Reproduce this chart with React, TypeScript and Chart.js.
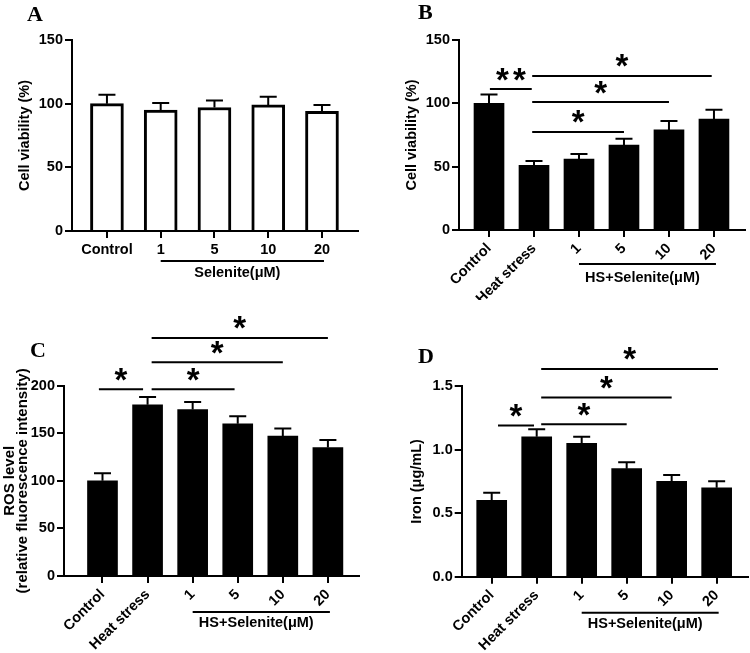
import React, { useEffect, useRef } from 'react';
import { Chart, registerables } from 'chart.js';

Chart.register(...registerables);

const FONT = '"Liberation Sans", Arial, Helvetica, sans-serif';
const SERIF = '"Liberation Serif", "Times New Roman", Times, serif';

// ---------- Panel A ----------
const labelsA = ['Control', '1', '5', '10', '20'];
const valuesA = [100, 95, 97, 99, 94];
const errorsA = [7, 5.5, 5.5, 6.5, 5];
const yTicksA = [0, 50, 100, 150];
const bracketsA: [number, number, number, string][] = [];

// ---------- Panels B, C, D share groups ----------
const labelsTreat = ['Control', 'Heat stress', '1', '5', '10', '20'];

const valuesB = [100, 51, 56, 67, 79, 87.5];
const errorsB = [7, 3.5, 4, 5, 7, 7.5];
const yTicksB = [0, 50, 100, 150];
const bracketsB: [number, number, number, string][] = [
  [0.02, 0.95, 111.3, '**'],
  [0.96, 3, 77.4, '*'],
  [0.96, 4, 101, '*'],
  [0.96, 4.95, 121.6, '*'],
];

const valuesC = [100, 180, 175, 160, 147, 135];
const errorsC = [8, 8, 8, 8, 8, 8];
const yTicksC = [0, 50, 100, 150, 200];
const bracketsC: [number, number, number, string][] = [
  [-0.08, 0.9, 196.3, '*'],
  [1.09, 2.93, 196.3, '*'],
  [1.09, 4, 224.6, '*'],
  [1.09, 5, 250.2, '*'],
];

const valuesD = [0.6, 1.1, 1.05, 0.85, 0.75, 0.7];
const errorsD = [0.06, 0.06, 0.05, 0.05, 0.05, 0.05];
const yTicksD = [0, 0.5, 1.0, 1.5];
const bracketsD: [number, number, number, string][] = [
  [0.14, 0.94, 1.19, '*'],
  [1.1, 3, 1.2, '*'],
  [1.1, 4, 1.41, '*'],
  [1.1, 5.03, 1.634, '*'],
];

interface PanelCfg {
  letter: string;
  letterX: number;
  letterY: number;
  left: number;
  top: number;
  w: number;
  h: number;
  area: { l: number; t: number; r: number; b: number };
  xMin: number;
  xMax: number;
  labels: string[];
  values: number[];
  errors: number[];
  yTicks: number[];
  yDec: number;
  yTitle: string | string[];
  titleSize: number;
  titleLH: number;
  titlePad: number;
  fill: string;
  barW: number;
  border: number;
  rotation: number;
  brackets: [number, number, number, string][];
  groupFrom: number;
  groupTo: number;
  groupText: string;
  groupLineDy: number;
  groupTextDy: number;
}

const panels: PanelCfg[] = [
  {
    letter: 'A', letterX: 27, letterY: 21, left: 0, top: 0, w: 375, h: 300,
    area: { l: 72, t: 40, r: 358, b: 231 }, xMin: -0.65, xMax: 4.67,
    labels: labelsA, values: valuesA, errors: errorsA, yTicks: yTicksA, yDec: 0,
    yTitle: 'Cell viability (%)', titleSize: 14.5, titleLH: 1.2, titlePad: 16.3,
    fill: '#ffffff', barW: 33, border: 3, rotation: 0, brackets: bracketsA,
    groupFrom: 1, groupTo: 4, groupText: 'Selenite(μM)', groupLineDy: 30, groupTextDy: 42,
  },
  {
    letter: 'B', letterX: 43, letterY: 19, left: 375, top: 0, w: 375, h: 300,
    area: { l: 84, t: 40, r: 370, b: 230 }, xMin: -0.667, xMax: 5.69,
    labels: labelsTreat, values: valuesB, errors: errorsB, yTicks: yTicksB, yDec: 0,
    yTitle: 'Cell viability (%)', titleSize: 14.5, titleLH: 1.2, titlePad: 28.3,
    fill: '#000000', barW: 30, border: 0, rotation: 45, brackets: bracketsB,
    groupFrom: 2, groupTo: 5, groupText: 'HS+Selenite(μM)', groupLineDy: 34, groupTextDy: 48,
  },
  {
    letter: 'C', letterX: 30, letterY: 57, left: 0, top: 300, w: 375, h: 353,
    area: { l: 64, t: 85.7, r: 359, b: 276 }, xMin: -0.854, xMax: 5.69,
    labels: labelsTreat, values: valuesC, errors: errorsC, yTicks: yTicksC, yDec: 0,
    yTitle: ['ROS level', '(relative fluorescence intensity)'], titleSize: 15, titleLH: 0.82, titlePad: 4,
    fill: '#000000', barW: 30, border: 0, rotation: 45, brackets: bracketsC,
    groupFrom: 2, groupTo: 5, groupText: 'HS+Selenite(μM)', groupLineDy: 36, groupTextDy: 47,
  },
  {
    letter: 'D', letterX: 43, letterY: 63, left: 375, top: 300, w: 375, h: 353,
    area: { l: 86.7, t: 86, r: 372.7, b: 276.7 }, xMin: -0.667, xMax: 5.69,
    labels: labelsTreat, values: valuesD, errors: errorsD, yTicks: yTicksD, yDec: 1,
    yTitle: 'Iron (μg/mL)', titleSize: 14.5, titleLH: 1.2, titlePad: 33.3,
    fill: '#000000', barW: 30, border: 0, rotation: 45, brackets: bracketsD,
    groupFrom: 2, groupTo: 5, groupText: 'HS+Selenite(μM)', groupLineDy: 36, groupTextDy: 47,
  },
];

function makeAnnotPlugin(p: PanelCfg) {
  return {
    id: 'annot' + p.letter,
    afterDatasetsDraw(chart: any) {
      const { ctx, chartArea } = chart;
      const x = chart.scales.x;
      const y = chart.scales.y;
      ctx.save();
      ctx.strokeStyle = '#000';
      ctx.fillStyle = '#000';
      ctx.lineWidth = 2;
      // error bars (upper only)
      p.values.forEach((v, i) => {
        const px = x.getPixelForValue(i);
        const y0 = y.getPixelForValue(v);
        const y1 = y.getPixelForValue(v + p.errors[i]);
        ctx.beginPath();
        ctx.moveTo(px, y0);
        ctx.lineTo(px, y1);
        ctx.moveTo(px - 8.5, y1);
        ctx.lineTo(px + 8.5, y1);
        ctx.stroke();
      });
      // significance brackets
      ctx.font = `bold 33px ${FONT}`;
      ctx.textAlign = 'center';
      ctx.textBaseline = 'alphabetic';
      const m = ctx.measureText('*');
      const starShift = (m.actualBoundingBoxAscent - m.actualBoundingBoxDescent) / 2;
      p.brackets.forEach(([a, b, v, lab]) => {
        const xa = x.getPixelForValue(a);
        const xb = x.getPixelForValue(b);
        const py = y.getPixelForValue(v);
        ctx.beginPath();
        ctx.moveTo(xa, py);
        ctx.lineTo(xb, py);
        ctx.stroke();
        const mid = (xa + xb) / 2;
        const sy = py - 15 + starShift;
        const n = lab.length;
        for (let k = 0; k < n; k++) {
          ctx.fillText('*', mid + (k - (n - 1) / 2) * 17, sy);
        }
      });
      // group underline + label
      const gx1 = x.getPixelForValue(p.groupFrom);
      const gx2 = x.getPixelForValue(p.groupTo);
      const gy = chartArea.bottom + p.groupLineDy;
      ctx.beginPath();
      ctx.moveTo(gx1, gy);
      ctx.lineTo(gx2 + 2, gy);
      ctx.stroke();
      ctx.font = `bold 14.5px ${FONT}`;
      ctx.textBaseline = 'middle';
      ctx.fillText(p.groupText, (gx1 + gx2) / 2 - 4, chartArea.bottom + p.groupTextDy);
      // panel letter
      ctx.font = `bold 22px ${SERIF}`;
      ctx.textAlign = 'left';
      ctx.textBaseline = 'alphabetic';
      ctx.fillText(p.letter, p.letterX, p.letterY);
      ctx.restore();
    },
  };
}

function Panel({ p }: { p: PanelCfg }) {
  const ref = useRef<HTMLCanvasElement | null>(null);
  useEffect(() => {
    if (!ref.current) return;
    const tickFont = { family: FONT, size: 14.5, weight: 'bold' as const };
    const gridCommon = {
      display: true,
      drawOnChartArea: false,
      drawTicks: true,
      tickLength: 7,
      color: '#000',
      lineWidth: 2,
      offset: false,
    };
    const chart = new Chart(ref.current, {
      type: 'bar',
      data: {
        datasets: [
          {
            data: p.values.map((v, i) => ({ x: i, y: v })),
            backgroundColor: p.fill,
            borderColor: '#000',
            borderWidth: p.border,
            barThickness: p.barW,
          } as any,
        ],
      },
      options: {
        responsive: false,
        animation: false,
        events: [],
        layout: { padding: { left: 0, top: p.area.t, right: p.w - p.area.r, bottom: 0 } },
        plugins: { legend: { display: false }, tooltip: { enabled: false } },
        scales: {
          x: {
            type: 'linear',
            min: p.xMin,
            max: p.xMax,
            offset: false,
            grid: gridCommon,
            border: { display: true, color: '#000', width: 2 },
            afterBuildTicks: (s: any) => {
              s.ticks = p.labels.map((_, i) => ({ value: i }));
            },
            afterFit: (s: any) => {
              s.height = p.h - p.area.b;
            },
            ticks: {
              autoSkip: false,
              minRotation: p.rotation,
              maxRotation: p.rotation,
              padding: 3,
              color: '#000',
              font: tickFont,
              callback: (v: any) => p.labels[Math.round(Number(v))] ?? '',
            },
          },
          y: {
            type: 'linear',
            min: p.yTicks[0],
            max: p.yTicks[p.yTicks.length - 1],
            grid: gridCommon,
            border: { display: true, color: '#000', width: 2 },
            afterBuildTicks: (s: any) => {
              s.ticks = p.yTicks.map((v) => ({ value: v }));
            },
            afterFit: (s: any) => {
              s.width = p.area.l;
            },
            ticks: {
              padding: 2,
              color: '#000',
              font: tickFont,
              callback: (v: any) => Number(v).toFixed(p.yDec),
            },
            title: {
              display: true,
              text: p.yTitle,
              color: '#000',
              font: { family: FONT, size: p.titleSize, weight: 'bold', lineHeight: p.titleLH },
              padding: { top: p.titlePad, bottom: 0 },
            },
          },
        },
      } as any,
      plugins: [makeAnnotPlugin(p)],
    });
    return () => chart.destroy();
  }, [p]);
  return (
    <canvas
      ref={ref}
      width={p.w}
      height={p.h}
      style={{ position: 'absolute', left: p.left, top: p.top, width: p.w, height: p.h }}
    />
  );
}

export default function App() {
  return (
    <div style={{ position: 'absolute', left: 0, top: 0, width: 750, height: 653, background: '#fff' }}>
      {panels.map((p) => (
        <Panel key={p.letter} p={p} />
      ))}
    </div>
  );
}
